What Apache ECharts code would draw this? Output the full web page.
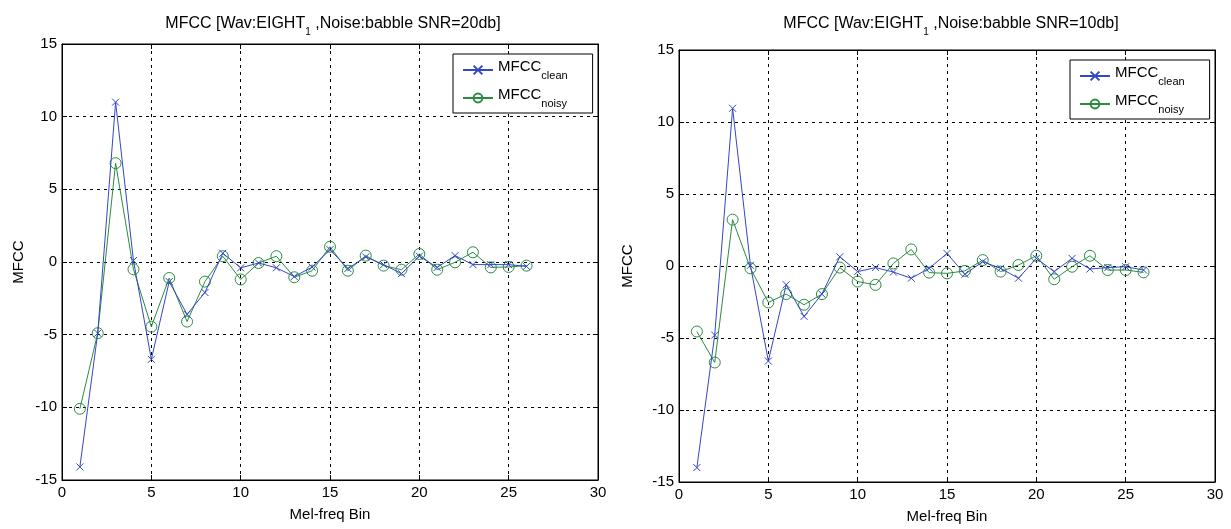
<!DOCTYPE html>
<html><head><meta charset="utf-8">
<script src="https://cdn.jsdelivr.net/npm/echarts@6/dist/echarts.min.js"></script>
<style>html,body{margin:0;padding:0;background:#fff}#c{width:1231px;height:529px}</style>
</head><body><div id="c"></div>
<script>
const bins = [1,2,3,4,5,6,7,8,9,10,11,12,13,14,15,16,17,18,19,20,21,22,23,24,25,26];
const leftClean = [-14.1,-4.9,11.0,0.1,-6.7,-1.35,-3.6,-2.1,0.6,-0.4,-0.07,-0.4,-1.0,-0.35,0.85,-0.45,0.35,-0.18,-0.8,0.4,-0.37,0.44,-0.18,-0.18,-0.18,-0.3];
const leftNoisy = [-10.1,-4.9,6.8,-0.5,-4.45,-1.1,-4.1,-1.35,0.4,-1.2,-0.07,0.4,-1.05,-0.6,1.05,-0.6,0.44,-0.25,-0.53,0.55,-0.53,-0.02,0.67,-0.37,-0.34,-0.25];
const rightClean = [-14.0,-4.8,10.95,0.05,-6.6,-1.3,-3.5,-1.95,0.64,-0.39,-0.11,-0.42,-0.85,-0.16,0.87,-0.57,0.3,-0.16,-0.85,0.53,-0.39,0.53,-0.21,-0.11,-0.05,-0.28];
const rightNoisy = [-4.55,-6.7,3.22,-0.16,-2.53,-1.95,-2.69,-1.95,-0.11,-1.08,-1.31,0.18,1.15,-0.46,-0.51,-0.34,0.41,-0.39,0.07,0.71,-0.92,-0.05,0.71,-0.28,-0.28,-0.44];
const titles = [['MFCC [Wav:EIGHT','1',' ,Noise:babble SNR=20db]'],['MFCC [Wav:EIGHT','1',' ,Noise:babble SNR=10db]']];
const xName = 'Mel-freq Bin', yName = 'MFCC';
const legendSubs = {clean:'clean', noisy:'noisy'};

const FONT = "'Liberation Sans', Arial, sans-serif";
const BLUE = '#3447c4', GREEN = '#2a8c40';
const grids = [{left:62, top:44, width:536, height:436},{left:679, top:50, width:536, height:435}];
const titleX = [328, 946];
const yNameGap = [36, 44];
const legendPos = [{left:453, top:54},{left:1070, top:60}];

const pair = (ys) => bins.map((b,i)=>[b, ys[i]]);
const rich = {
  a:{fontFamily:FONT,fontSize:16,fontWeight:'normal',color:'#000',verticalAlign:'top',lineHeight:12},
  s:{fontFamily:FONT,fontSize:10,fontWeight:'normal',color:'#000',verticalAlign:'bottom',lineHeight:21}
};
const xAxes=[], yAxes=[];
const baseLine = {show:true,onZero:false,lineStyle:{color:'#000',width:1}};
const tick = {show:true,inside:true,length:5,lineStyle:{color:'#000'}};
const split = {show:true,lineStyle:{color:'#000',type:[3,4],width:1}};
const nameStyle = {fontFamily:FONT,fontSize:15,color:'#000'};
grids.forEach((g,gi)=>{
  xAxes.push({gridIndex:gi,type:'value',min:0,max:30,interval:5,position:'bottom',
    name:xName,nameLocation:'middle',nameGap:27,nameTextStyle:nameStyle,
    axisLine:baseLine,axisTick:tick,
    axisLabel:{fontFamily:FONT,fontSize:15,color:'#000',margin:5},
    splitLine:split});
  xAxes.push({gridIndex:gi,type:'value',min:0,max:30,interval:5,position:'top',
    axisLine:baseLine,axisTick:tick,axisLabel:{show:false},splitLine:{show:false}});
  yAxes.push({gridIndex:gi,type:'value',min:-15,max:15,interval:5,position:'left',
    name:yName,nameLocation:'middle',nameGap:yNameGap[gi],nameTextStyle:nameStyle,
    axisLine:baseLine,axisTick:tick,
    axisLabel:{fontFamily:FONT,fontSize:15,color:'#000',margin:5},
    splitLine:split});
  yAxes.push({gridIndex:gi,type:'value',min:-15,max:15,interval:5,position:'right',
    axisLine:baseLine,axisTick:tick,axisLabel:{show:false},splitLine:{show:false}});
});
const xMark = 'path://M0,0L10,10M10,0L0,10';
const mkSeries = (gi, name, ys) => {
  const clean = name==='clean';
  return {name, type:'line', xAxisIndex:gi*2, yAxisIndex:gi*2, data:pair(ys),
    symbol: clean ? xMark : 'circle', symbolSize: clean ? 7 : 11,
    showAllSymbol:true, animation:false,
    lineStyle:{color: clean?BLUE:GREEN, width:1},
    itemStyle:{color:'rgba(0,0,0,0)', borderColor: clean?BLUE:GREEN, borderWidth:1},
    z: clean?3:2};
};
const legendRich = {
  m:{fontFamily:FONT,fontSize:15,color:'#000',verticalAlign:'top',lineHeight:12},
  sb:{fontFamily:FONT,fontSize:11,color:'#000',verticalAlign:'bottom',lineHeight:22}
};
const legends = legendPos.map((p)=>({
  left:p.left, top:p.top, orient:'vertical', data:['clean','noisy'],
  backgroundColor:'#fff', borderColor:'#000', borderWidth:1,
  padding:[5,25,4,9], itemGap:6, itemWidth:30, itemHeight:11,
  formatter:(n)=>'{m|MFCC}{sb|'+legendSubs[n]+'}',
  textStyle:{rich:legendRich}, selectedMode:false
}));
const chart = echarts.init(document.getElementById('c'), null, {renderer:'canvas'});
chart.setOption({
  backgroundColor:'#fff', animation:false,
  title: titles.map((t,i)=>({text:'{a|'+t[0]+'}{s|'+t[1]+'}{a|'+t[2]+'}', left:titleX[i], textAlign:'center', top:11,
    textStyle:{fontWeight:'normal',rich}})),
  grid: grids.map(g=>Object.assign({show:true,borderColor:'#000',borderWidth:1,backgroundColor:'#fff',containLabel:false},g)),
  legend: legends,
  xAxis:xAxes, yAxis:yAxes,
  series:[mkSeries(0,'clean',leftClean), mkSeries(0,'noisy',leftNoisy),
          mkSeries(1,'clean',rightClean), mkSeries(1,'noisy',rightNoisy)]
});
</script></body></html>
